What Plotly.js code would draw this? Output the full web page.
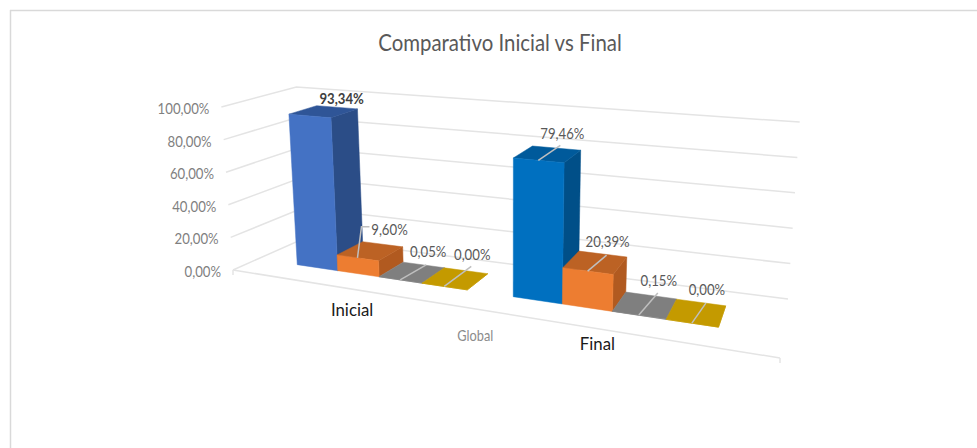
<!DOCTYPE html>
<html><head><meta charset="utf-8">
<script src="https://cdn.plot.ly/plotly-3.0.1.min.js"></script>
<style>html,body{margin:0;padding:0;background:#fff}#c{width:977px;height:448px}</style>
</head><body><div id="c"></div>
<script>
const categories = ['Inicial', 'Final'];
const serie1 = [93.34, 79.46];
const serie2 = [9.60, 20.39];
const serie3 = [0.05, 0.15];
const serie4 = [0.00, 0.00];
const axisTicks = [0, 20, 40, 60, 80, 100];
const axisTitle = 'Global';
const chartTitle = 'Comparativo Inicial vs Final';

// view of the 3D box on the page: floor quad, plus how a full-height column leans and rises from any floor point
const floorQuad = [[233,270],[780,358],[788,299],[305,238]];
const lean = {k:0.042, x0:510}, rise = {a:57.6, bx:0.0049, by:0.386};
const barEdges = [[0.1035,0.204,0.3003,0.394,0.487],[0.5755,0.664,0.7485,0.8335,0.911]], vFront = 0.32, vBack = 0.71;
const fonts = 'Lato, "Open Sans", sans-serif';
const squeeze = 0.85;

function homography(q){
  const [A,B,C,D]=q;
  const dx1=B[0]-C[0],dx2=D[0]-C[0],sx=A[0]-B[0]+C[0]-D[0];
  const dy1=B[1]-C[1],dy2=D[1]-C[1],sy=A[1]-B[1]+C[1]-D[1];
  const den=dx1*dy2-dx2*dy1;
  const g=(sx*dy2-dx2*sy)/den,h=(dx1*sy-sx*dy1)/den;
  const a=B[0]-A[0]+g*B[0],b=D[0]-A[0]+h*D[0],d=B[1]-A[1]+g*B[1],e=D[1]-A[1]+h*D[1];
  return (u,v)=>{const w=g*u+h*v+1;return [(a*u+b*v+A[0])/w,(d*u+e*v+A[1])/w];};
}
const hF=homography(floorQuad);
function P(u,v,pct){const f=hF(u,v),w=pct/100;
  return [f[0]+w*lean.k*(f[0]-lean.x0), f[1]-w*(rise.a+rise.bx*f[0]+rise.by*f[1])];}

const traces=[];
function line(pts,color,width){traces.push({type:'scatter',mode:'lines',x:pts.map(p=>p[0]),y:pts.map(p=>p[1]),
  line:{color:color,width:width},hoverinfo:'skip',showlegend:false});}
function poly(pts,color){const c=pts.concat([pts[0]]);traces.push({type:'scatter',mode:'lines',x:c.map(p=>p[0]),y:c.map(p=>p[1]),
  fill:'toself',fillcolor:color,line:{color:color,width:0.5},hoverinfo:'skip',showlegend:false});}
function text(x,y,str,color,size,pos,bold){traces.push({type:'scatter',mode:'text',x:[x],y:[y],text:[str],
  textposition:pos||'middle center',textfont:{family:fonts,size:size,color:color,weight:bold?700:400},hoverinfo:'skip',showlegend:false});}

// grid
const gridColor='#e4e4e4';
axisTicks.forEach(t=>{
  line([P(0,0,t),P(0,1,t),P(1,1,t)],gridColor,1.5);
  const s=P(0,0,t);
  text(s[0]-12,s[1]+3,t.toFixed(2).replace('.',',')+'%','#7f7f7f',15.5,'middle left');
});
line([P(0,0,0),P(1,0,0)],gridColor,1.5);
[0,1].forEach(u=>{const s=P(u,0,0);line([s,[s[0],s[1]+5]],gridColor,1.5);});

// bars
const seriesValues=[serie1,serie2,serie3,serie4];
const palette=[
 [{front:'#4472c4',top:'#2f5597',side:'#2b4d87'},{front:'#0070c0',top:'#005a9b',side:'#004f88'}],
 [{front:'#ed7d31',top:'#bc6224',side:'#b15a20'},{front:'#ed7d31',top:'#bc6224',side:'#b15a20'}],
 [{front:'#7f7f7f',top:'#7f7f7f',side:'#7f7f7f'},{front:'#7f7f7f',top:'#7f7f7f',side:'#7f7f7f'}],
 [{front:'#c49a00',top:'#c49a00',side:'#c49a00'},{front:'#c49a00',top:'#c49a00',side:'#c49a00'}]];
const leaderOffsets=[
 [[],[[4,-31],[12,-31]],[[26,-15]],[[27,-20]]],
 [[[22,-15]],[[19,-16]],[[19,-22]],[[14,-20]]]];
const labelOffsets=[
 [[32,-16],[32,-27],[28,-27],[28,-30]],
 [[24,-25],[20,-28],[20,-33],[15,-32]]];
const labelColor='#595959';
categories.forEach((cat,g)=>{
  const labels=[];
  seriesValues.forEach((vals,s)=>{
    const u0=barEdges[g][s],u1=barEdges[g][s+1],val=vals[g],c=palette[s][g];
    poly([P(u1,vFront,0),P(u1,vBack,0),P(u1,vBack,val),P(u1,vFront,val)],c.side);
    poly([P(u0,vFront,val),P(u1,vFront,val),P(u1,vBack,val),P(u0,vBack,val)],c.top);
    poly([P(u0,vFront,0),P(u1,vFront,0),P(u1,vFront,val),P(u0,vFront,val)],c.front);
    labels.push({st:P((u0+u1)/2,vFront,val),s,val});
  });
  labels.forEach(o=>{
    const lo=leaderOffsets[g][o.s];
    if(lo.length) line([o.st].concat(lo.map(d=>[o.st[0]+d[0],o.st[1]+d[1]])),'#bfbfbf',1.5);
    const d=labelOffsets[g][o.s],lbl=o.val.toFixed(2).replace('.',',')+'%';
    const bold=(g===0&&o.s===0);
    text(o.st[0]+d[0],o.st[1]+d[1],lbl,bold?'#404040':labelColor,15.5,'middle center',bold);
  });
  const mid=P(barEdges[g][2],vFront,0);
  const off=[[-27,35],[-15,34]][g];
  text(mid[0]+off[0],mid[1]+off[1],cat,'#1a1a1a',16.8);
});
const at=P(0.5,0,0);
text(at[0]+20,at[1]+31,axisTitle,'#8c8c8c',15);

const layout={
  width:977,height:448,margin:{l:0,r:0,t:0,b:0},
  paper_bgcolor:'#ffffff',plot_bgcolor:'#ffffff',showlegend:false,
  title:{text:chartTitle,x:500/977,xanchor:'center',y:1-43/448,yanchor:'middle',font:{family:fonts,size:24,color:'#595959'}},
  xaxis:{range:[0,977],visible:false,fixedrange:true},
  yaxis:{range:[448,0],visible:false,fixedrange:true},
  shapes:[
   {type:'line',xref:'paper',yref:'paper',x0:10.5/977,x1:10.5/977,y0:0,y1:1-10/448,line:{color:'#d9d9d9',width:1.5}},
   {type:'line',xref:'paper',yref:'paper',x0:10/977,x1:1,y0:1-10.5/448,y1:1-10.5/448,line:{color:'#d9d9d9',width:1.5}}
  ]
};
Plotly.newPlot('c',traces,layout,{displayModeBar:false,staticPlot:true}).then(gd=>{
  // the reference's lettering is condensed: narrow the real text horizontally
  gd.querySelectorAll('.textpoint text, .gtitle').forEach(el=>{
    if(categories.includes(el.textContent)) return;
    el.setAttribute('lengthAdjust','spacingAndGlyphs');
    el.setAttribute('textLength',el.getComputedTextLength()*squeeze);
  });
});
</script></body></html>
